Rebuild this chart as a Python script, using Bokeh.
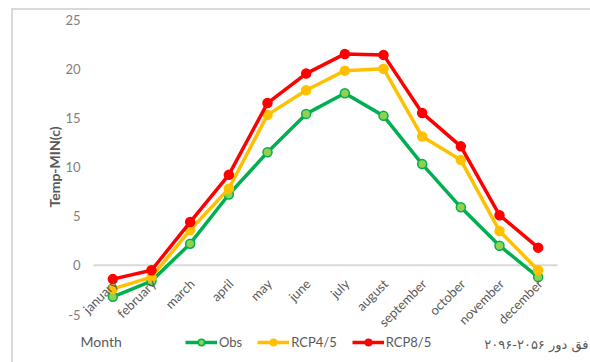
from bokeh.plotting import figure
from bokeh.models import ColumnDataSource, Legend, LegendItem, Label, Range1d
from bokeh.core.properties import value
from bokeh.embed import file_html
from bokeh.resources import INLINE
import math

months = ["january", "february", "march", "april", "may", "june", "july",
          "august", "september", "october", "november", "december"]
obs = [-3.2, -1.6, 2.2, 7.2, 11.5, 15.4, 17.5, 15.2, 10.3, 5.9, 2.0, -1.2]
rcp45 = [-2.4, -1.2, 3.6, 7.8, 15.3, 17.8, 19.8, 20.0, 13.1, 10.7, 3.5, -0.5]
rcp85 = [-1.4, -0.5, 4.4, 9.2, 16.5, 19.5, 21.5, 21.4, 15.5, 12.1, 5.1, 1.8]
y_ticks = [-5, 0, 5, 10, 15, 20, 25]
y_title = "Temp-MIN(c)"
x_title = "Month"
note = "فق دور ۲۰۵۶-۲۰۹۶"

FONT = "Lato"
GRAY = "#595959"

# layout of the plotting area inside the 590x362 canvas (pixels)
W, H = 590, 362
PL, PR, PT, PB = 93, 557, 19, 314
n = len(months)
ymin, ymax = min(y_ticks), max(y_ticks)
xpx = (PR - PL) / n               # px per category
ypx = (PB - PT) / (ymax - ymin)   # px per unit
x_lo = -0.5 - PL / xpx
x_hi = n - 0.5 + (W - PR) / xpx
y_hi = ymax + PT / ypx
y_lo = ymin - (H - PB) / ypx

idx = list(range(n))
src = ColumnDataSource(dict(x=idx, month=months, zero=[0] * n,
                            obs=obs, rcp45=rcp45, rcp85=rcp85))
tick_src = ColumnDataSource(dict(x=[-0.5] * len(y_ticks), y=y_ticks,
                                 t=[str(v) for v in y_ticks]))

p = figure(width=W, height=H, output_backend="svg", toolbar_location=None,
           x_range=Range1d(x_lo, x_hi), y_range=Range1d(y_lo, y_hi),
           min_border=0, min_border_left=0, min_border_right=0,
           min_border_top=0, min_border_bottom=0)
p.outline_line_color = None
p.grid.visible = False
p.xaxis.visible = False
p.yaxis.visible = False
p.background_fill_alpha = 0
p.border_fill_alpha = 0
p.styles = {
    "background": "linear-gradient(#d9d9d9, #d9d9d9) 11px 8px / 2px 100% no-repeat, "
                  "linear-gradient(#d9d9d9, #d9d9d9) 11px 8px / 100% 2px no-repeat, #ffffff"
}

# zero line (category axis)
p.segment(x0=[-0.5], y0=[0], x1=[n - 0.5], y1=[0], line_color="#d9d9d9", line_width=2)

# y tick labels and title
p.text("x", "y", text="t", source=tick_src, text_align="right", text_baseline="middle",
       x_offset=-13, text_font=value(FONT), text_font_size="13px", text_color="#7f7f7f")
p.text(x=[-0.5], y=[(ymin + ymax) / 2], text=[y_title], angle=math.pi / 2,
       text_align="center", text_baseline="middle", x_offset=-39,
       text_font=value(FONT), text_font_size="14px", text_font_style="bold", text_color=GRAY)

series = [("Obs", "obs", "#00b050", "#92d050"),
          ("RCP4/5", "rcp45", "#ffc000", "#ffc000"),
          ("RCP8/5", "rcp85", "#ff0000", "#ff0000")]
items = []
for name, col, lc, fc in series:
    r1 = p.line("x", col, source=src, line_color=lc, line_width=3.5)
    r2 = p.scatter("x", col, source=src, size=9, fill_color=fc, line_color=lc, line_width=1.5)
    items.append(LegendItem(label=name, renderers=[r1, r2]))

# category labels
p.text("x", "zero", text="month", source=src, angle=math.pi / 4,
       text_align="right", text_baseline="middle", x_offset=2, y_offset=16,
       text_font=value(FONT), text_font_size="13px", text_color=GRAY)

legend = Legend(items=items, orientation="horizontal", location=(185, 12),
                padding=0, margin=0, spacing=15, glyph_width=32, glyph_height=16,
                label_height=16, label_standoff=2, border_line_color=None,
                background_fill_alpha=0,
                label_text_font=FONT, label_text_font_size="13px", label_text_color=GRAY)
p.add_layout(legend, "center")

p.add_layout(Label(x=-0.5, y=ymin, x_offset=80 - PL, y_offset=-(341 - PB), text=x_title,
                   text_align="left", text_baseline="middle",
                   text_font=FONT, text_font_size="14px", text_color=GRAY))
p.add_layout(Label(x=n - 0.5, y=ymin, x_offset=588 - PR, y_offset=-(344 - PB), text=note,
                   text_align="right", text_baseline="middle",
                   text_font="DejaVu Sans", text_font_size="13px", text_color=GRAY))

open("out.html", "w").write(file_html(p, INLINE))
